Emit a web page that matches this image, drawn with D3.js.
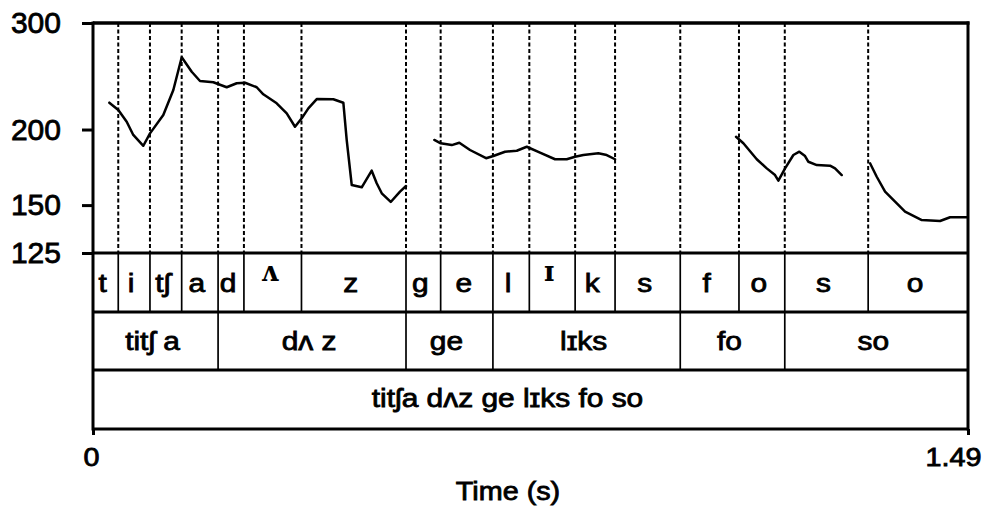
<!DOCTYPE html>
<html><head><meta charset="utf-8">
<script src="https://cdn.jsdelivr.net/npm/d3@7"></script>
<style>body{margin:0;background:#fff} svg{display:block}</style>
</head><body><svg id="c" width="982" height="515"></svg>
<script>
// ---- data ----
const yTicks = [125, 150, 200, 300];
const xTicks = [0, 1.49];
const timeMax = 1.49;
const phoneLabels = ["t","i","tʃ","a","d","ʌ","z","g","e","l","ɪ","k","s","f","o","s","o"];
const phoneBounds = [0,0.043,0.097,0.151,0.213,0.257,0.355,0.533,0.592,0.681,0.743,0.821,0.889,1.000,1.100,1.178,1.320,1.49];
const syllLabels = ["titʃ a","dʌ z","ge","lɪks","fo","so"];
const syllBounds = [0,0.213,0.533,0.681,1.000,1.178,1.49];
const phraseLabels = ["titʃa dʌz ge lɪks fo so"];
const phraseBounds = [0,1.49];
const xTitle = "Time (s)";
// pitch contours [time (s), F0 (Hz)]
const contour1 = [[0.0278,221.5],[0.0431,215.4],[0.0574,206],[0.0686,195.9],[0.0857,188],[0.0971,197.1],[0.1197,211.4],[0.1368,232.5],[0.1511,263.3],[0.1681,249.2],[0.1822,240.6],[0.2049,239.4],[0.2277,234.9],[0.2447,238.5],[0.2589,239],[0.2788,234.9],[0.29,228.7],[0.3128,221],[0.3299,212.7],[0.344,202.1],[0.3554,208.7],[0.3667,216.8],[0.381,224.6],[0.4092,224.4],[0.4263,221.5],[0.432,192.2],[0.4406,161.9],[0.4576,160.5],[0.4746,171],[0.4831,163],[0.4917,156.9],[0.507,151.8],[0.5228,157.9],[0.533,161.3]];
const contour2 = [[0.5812,192.2],[0.5921,189.8],[0.6109,188.5],[0.6238,190.2],[0.642,185],[0.6693,179.3],[0.6817,180.8],[0.7016,183.8],[0.7216,184.5],[0.7386,187.3],[0.7612,183.1],[0.7868,178.6],[0.8067,178.6],[0.8208,180.3],[0.835,181.5],[0.8605,182.7],[0.8748,181.5],[0.889,178.6]];
const contour3 = [[1.095,194.6],[1.1075,189.8],[1.1303,178.6],[1.1473,172.5],[1.1614,168.2],[1.1671,164.6],[1.1785,172.5],[1.1926,181.5],[1.2028,183.8],[1.2125,180.8],[1.2182,176.9],[1.2325,174.7],[1.2551,174.3],[1.2636,172.5],[1.275,168.2]];
const contour4 = [[1.3232,175.9],[1.3346,167.1],[1.3488,157.9],[1.3658,152],[1.3828,146.3],[1.4113,141.7],[1.4424,141.2],[1.4595,143.2],[1.489,143.2]];
const contours = [contour1, contour2, contour3, contour4];

// ---- layout ----
const L = 93, R = 968, T = 23, P = 253, T1 = 312, T2 = 370, B = 429;
const font = "'Liberation Sans', Arial, sans-serif";
const serif = "'DejaVu Serif', 'Liberation Serif', serif";
const sx = 1.15;
const heavy = 0.8;

const svg = d3.select("#c");
const x = d3.scaleLinear().domain([0, timeMax]).range([L, R]);
const y = d3.scaleLog().domain([125, 300]).range([P, T]);

// dashed phone boundaries in pitch panel
svg.append("g").selectAll("line").data(phoneBounds.slice(1, -1)).join("line")
  .attr("x1", d => x(d)).attr("x2", d => x(d)).attr("y1", T).attr("y2", P)
  .attr("stroke", "#000").attr("stroke-width", 2).attr("stroke-dasharray", "4,2.5");

// tier separators
svg.append("g").selectAll("line").data(phoneBounds.slice(1, -1)).join("line")
  .attr("x1", d => x(d)).attr("x2", d => x(d)).attr("y1", P).attr("y2", T1)
  .attr("stroke", "#000").attr("stroke-width", 1.7);
svg.append("g").selectAll("line").data(syllBounds.slice(1, -1)).join("line")
  .attr("x1", d => x(d)).attr("x2", d => x(d)).attr("y1", T1).attr("y2", T2)
  .attr("stroke", "#000").attr("stroke-width", 1.7);

// horizontal tier lines
[[T1, 2.8], [T2, 2.8], [B, 3]].forEach(([yy, w]) => {
  svg.append("line").attr("x1", L).attr("x2", R).attr("y1", yy).attr("y2", yy)
    .attr("stroke", "#000").attr("stroke-width", w);
});
svg.append("line").attr("x1", L).attr("x2", R).attr("y1", P).attr("y2", P)
  .attr("stroke", "#000").attr("stroke-width", 2.8);
svg.append("line").attr("x1", L).attr("x2", R + 1.5).attr("y1", T).attr("y2", T)
  .attr("stroke", "#000").attr("stroke-width", 3.5);
// left & right frame
svg.append("line").attr("x1", L).attr("x2", L).attr("y1", T - 1.5).attr("y2", B + 1.5)
  .attr("stroke", "#000").attr("stroke-width", 3);
svg.append("line").attr("x1", R).attr("x2", R).attr("y1", T - 1.5).attr("y2", B + 1.5)
  .attr("stroke", "#000").attr("stroke-width", 3);

// y axis
const yAxis = svg.append("g").attr("transform", `translate(${L},0)`)
  .call(d3.axisLeft(y).tickValues(yTicks).tickSize(11).tickPadding(21).tickFormat(d3.format("d")));
yAxis.select(".domain").remove();
yAxis.selectAll(".tick line").attr("stroke", "#000").attr("stroke-width", 3);
yAxis.selectAll(".tick text").attr("font-family", font).attr("font-size", 30)
  .attr("fill", "#000").attr("stroke", "#000").attr("stroke-width", heavy);

// x axis
const xAxis = svg.append("g").attr("transform", `translate(0,${B})`)
  .call(d3.axisBottom(x).tickValues(xTicks).tickSize(6).tickPadding(13)
    .tickFormat(d => d === 0 ? "0" : d3.format(".2f")(d)));
xAxis.select(".domain").remove();
xAxis.selectAll(".tick line").attr("stroke", "#000").attr("stroke-width", 3);
xAxis.selectAll(".tick text").attr("font-family", font).attr("font-size", 25)
  .attr("fill", "#000").attr("stroke", "#000").attr("stroke-width", heavy)
  .attr("text-anchor", (d, i) => i === xTicks.length - 1 ? "end" : "middle")
  .attr("transform", (d, i) => i === xTicks.length - 1 ? `translate(13,0) scale(${sx},1)` : `translate(-2,0) scale(${sx},1)`);

// pitch contours
const line = d3.line().x(d => x(d[0])).y(d => y(d[1]));
svg.append("g").selectAll("path").data(contours).join("path")
  .attr("d", line).attr("fill", "none").attr("stroke", "#000")
  .attr("stroke-width", 2.5).attr("stroke-linejoin", "round").attr("stroke-linecap", "round");

// tier labels
function tier(labels, bounds, baseline, dx) {
  labels.forEach((lab, i) => {
    const cx = (x(bounds[i]) + x(bounds[i + 1])) / 2 + dx;
    const special = lab === "ʌ" || lab === "ɪ";
    svg.append("text").text(lab)
      .attr("transform", special ? `translate(${cx},${baseline - 11})` : `translate(${cx},${baseline}) scale(${sx},1)`)
      .attr("text-anchor", "middle")
      .attr("font-family", special ? serif : font)
      .attr("font-weight", special ? "bold" : "normal")
      .attr("font-size", special ? 27 : 26)
      .attr("fill", "#000").attr("stroke", "#000").attr("stroke-width", special ? 0 : heavy);
  });
}
tier(phoneLabels, phoneBounds, 292, -3);
tier(syllLabels, syllBounds, 350, -3);
tier(phraseLabels, phraseBounds, 407, -23);

// x title
svg.append("text").text(xTitle)
  .attr("transform", `translate(508,500) scale(${sx},1)`)
  .attr("text-anchor", "middle").attr("font-family", font).attr("font-size", 25)
  .attr("fill", "#000").attr("stroke", "#000").attr("stroke-width", heavy);
</script></body></html>
